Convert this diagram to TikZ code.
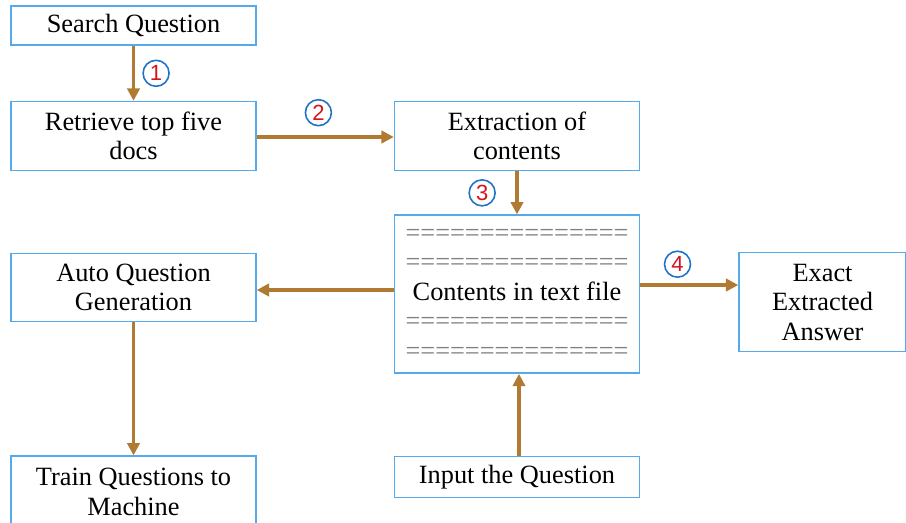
\documentclass[tikz,border=0pt]{standalone}
\usepackage{fontspec}
\setmainfont{Liberation Serif}
\newfontfamily\numfont{Liberation Sans}
\usetikzlibrary{arrows.meta,positioning}

\definecolor{boxblue}{RGB}{85,170,235}
\definecolor{ringblue}{RGB}{30,115,200}
\definecolor{numred}{RGB}{210,20,30}
\definecolor{arrowbrown}{RGB}{176,122,50}

\begin{document}
\begin{tikzpicture}[
    x=0.02cm, y=-0.02cm,
    mybox/.style={
       rectangle,
       draw=boxblue,
       line width=0.9pt,
       fill=white,
       align=center,
       inner sep=2pt,
       minimum width=4.9cm,
       font=\fontsize{15}{16.8}\selectfont},
    mynum/.style={
       circle,
       draw=ringblue,
       line width=0.9pt,
       inner sep=0pt,
       minimum size=0.52cm,
       text=numred,
       font=\numfont\fontsize{12.5}{12.5}\selectfont},
    myarrow/.style={-{Triangle[length=7pt,width=7pt]}, draw=arrowbrown, line width=1.8pt},
    node distance=1.1cm and 2.74cm
    ]
    \useasboundingbox (0,0) rectangle (906,522);

    \node[mybox, minimum height=0.78cm] (search) at (133.5,25.5) {Search Question};
    \node[mybox, minimum height=1.38cm, below=of search] (retrieve) {Retrieve top five\\docs};
    \node[mybox, minimum height=1.38cm, right=of retrieve] (extract) {Extraction of\\contents};
    \node[mybox, minimum height=3.16cm, below=0.86cm of extract] (contents)
       {{\color{gray}===============}\\{\color{gray}===============}\\Contents in text file\\{\color{gray}===============}\\{\color{gray}===============}};
    \node[mybox, minimum height=1.36cm, left=of contents, yshift=0.13cm] (autoq) {Auto Question\\Generation};
    \node[mybox, minimum height=1.42cm, below=2.66cm of autoq.south, anchor=north] (train) {Train Questions to\\Machine};
    \node[mybox, minimum height=0.82cm, below=1.64cm of contents] (input) {Input the Question};
    \node[mybox, minimum width=3.34cm, minimum height=1.98cm, right=1.96cm of contents, yshift=-0.16cm] (answer) {Exact\\Extracted\\Answer};

    % numbered steps
    \draw [myarrow] (search) -- node[mynum, right=5pt] {1} (retrieve);
    \draw [myarrow] (retrieve.east |- 0,137) -- node[mynum, pos=0.45, above=6pt] {2} (extract.west |- 0,137);
    \draw [myarrow] (extract) -- node[mynum, left=12pt] {3} (contents);
    \draw [myarrow] (contents.east |- 0,285) -- node[mynum, pos=0.38, above=4pt] {4} (answer.west |- 0,285);

    \draw [myarrow] (contents.west |- 0,290) -- (autoq.east |- 0,290);
    \draw [myarrow] (autoq) -- (train);
    \draw [myarrow] (input.north -| 519,0) -- (contents.south -| 519,0);
\end{tikzpicture}
\end{document}
